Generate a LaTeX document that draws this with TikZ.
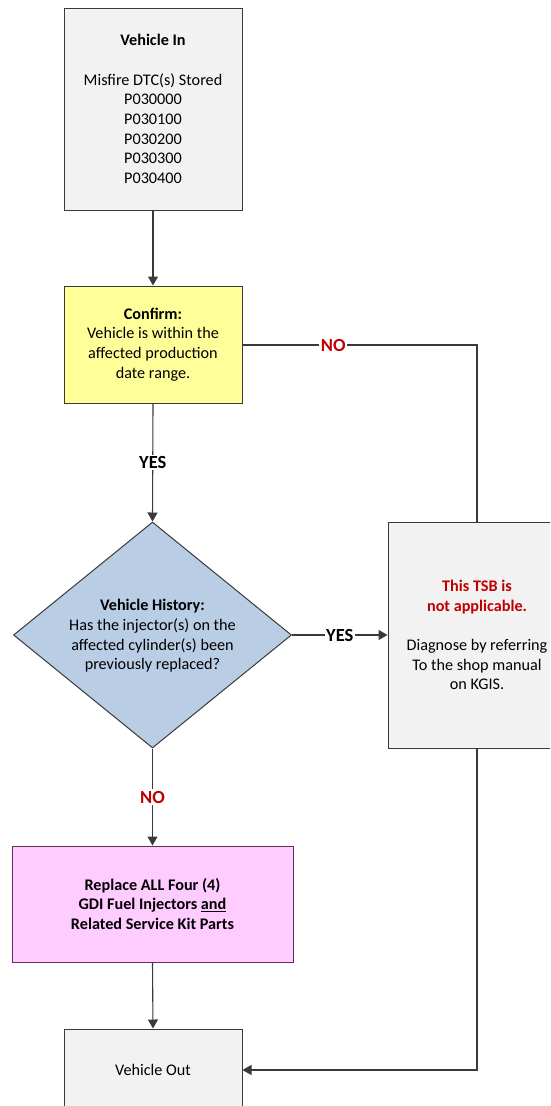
\documentclass[tikz,border=0pt]{standalone}
\usepackage{fontspec}
\setmainfont{Carlito}
\usetikzlibrary{shapes.geometric,arrows.meta}
\definecolor{boxgray}{HTML}{F2F2F2}
\definecolor{boxyellow}{HTML}{FFFF99}
\definecolor{boxblue}{HTML}{B9CDE5}
\definecolor{boxpink}{HTML}{FFCCFF}
\definecolor{edge}{HTML}{3A3A3A}
\definecolor{tsbred}{HTML}{C00000}
\tikzset{
  stepbox/.style={draw=edge, line width=1pt, inner sep=0pt, align=center,
    font=\fontsize{16.2}{19.7}\selectfont, text=black},
  decision/.style={draw=edge, line width=1pt, diamond, inner sep=0pt, fill=boxblue},
  conn/.style={draw=edge, line width=1.1pt},
  arr/.style={conn, -{Triangle[length=9pt,width=10pt]}},
  lbl/.style={fill=white, inner sep=1.5pt, font=\fontsize{18.5}{20}\selectfont\bfseries},
  body/.style={align=center, font=\fontsize{16.2}{19.7}\selectfont, text=black}
}
\begin{document}
\begin{tikzpicture}[x=1pt,y=1pt]
\path[use as bounding box] (0,0) rectangle (550,-1106);
\clip (0,0) rectangle (550,-1106);
\fill[white] (0,0) rectangle (550,-1106);

\node[stepbox, fill=boxgray, minimum width=178pt, minimum height=202pt] (vin) at (153,-109)
  {\textbf{Vehicle In}\\[19.7pt]Misfire DTC(s) Stored\\P030000\\P030100\\P030200\\P030300\\P030400};

\node[stepbox, fill=boxyellow, minimum width=178pt, minimum height=117pt] (conf) at (153,-344.5)
  {\textbf{Confirm:}\\Vehicle is within the\\affected production\\date range.};

\node[decision, minimum width=278pt, minimum height=226pt] (hist) at (152.5,-635) {};
\node[body] (histtext) at (152.5,-636) {\textbf{Vehicle History:}\\Has the injector(s) on the\\affected cylinder(s) been\\previously replaced?};

\node[stepbox, fill=boxgray, minimum width=178pt, minimum height=226pt] (tsb) at (477,-635)
  {\textcolor{tsbred}{\textbf{This TSB is}}\\\textcolor{tsbred}{\textbf{not applicable.}}\\[19.7pt]Diagnose by referring\\To the shop manual\\on KGIS.};

\node[stepbox, fill=boxpink, draw=edge!80!magenta, minimum width=281pt, minimum height=116pt] (repl) at (152.5,-904)
  {\textbf{Replace ALL Four (4)}\\\textbf{GDI Fuel Injectors \underline{and}}\\\textbf{Related Service Kit Parts}};

\node[stepbox, fill=boxgray, minimum width=178pt, minimum height=82pt] (vout) at (153,-1070)
  {Vehicle Out};

\coordinate (c1) at (477,-345);
\coordinate (c2) at (477,-1070);

\draw[arr] (vin.south) -- (conf.north);
\draw[arr] (conf.south) -- node[lbl, text=black] {YES} (hist.north);
\draw[conn] (conf.east |- c1) -- node[lbl, text=tsbred, pos=0.387] {NO} (c1) -- (tsb.north);
\draw[arr] (hist.east) -- node[lbl, text=black] {YES} (tsb.west);
\draw[arr] (hist.south) -- node[lbl, text=tsbred] {NO} (repl.north);
\draw[arr] (repl.south) -- (vout.north);
\draw[arr] (tsb.south) -- (c2) -- (vout.east);
\end{tikzpicture}
\end{document}
